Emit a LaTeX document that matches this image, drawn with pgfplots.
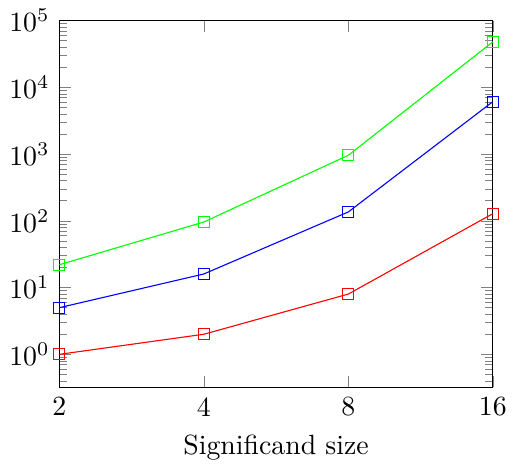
\documentclass[border=0pt]{standalone}
\usepackage{pgfplots}
\pgfplotsset{compat=1.18}
\begin{document}
\begin{tikzpicture}
\begin{axis}[
    scale only axis,
    width=156pt,
    height=132pt,
    xmode=log,
    ymode=log,
    log basis x=2,
    xmin=2, xmax=16,
    ymin=0.32, ymax=1e5,
    xtick={2,4,8,16},
    xticklabels={2,4,8,16},
    minor xtick={},
    xlabel={Significand size},
    ]
\addplot[red, mark=square] coordinates {(2,1) (4,2) (8,8) (16,128)};
\addplot[blue, mark=square] coordinates {(2,5) (4,16) (8,136) (16,6100)};
\addplot[green, mark=square] coordinates {(2,22) (4,96) (8,960) (16,48000)};
\end{axis}
\end{tikzpicture}
\end{document}
